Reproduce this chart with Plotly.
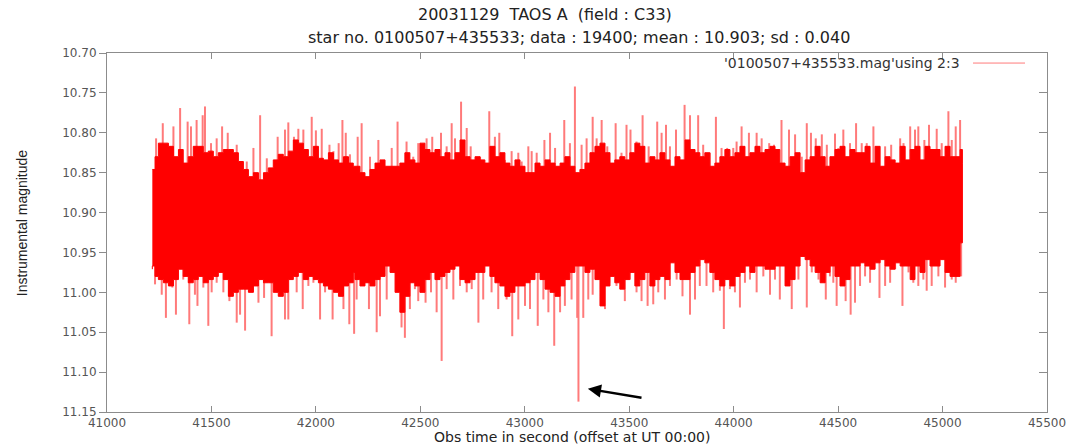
import plotly.graph_objects as go

# ---------------- data ----------------
title_line1 = "20031129\u00a0\u00a0TAOS A\u00a0\u00a0(field : C33)"
title_line2 = "star no. 0100507+435533; data : 19400; mean : 10.903; sd : 0.040"
legend_label = "'0100507+435533.mag'using 2:3"
x_title = "Obs time in second (offset at UT 00:00)"
y_title = "Instrumental magnitude"
mean_mag = 10.903

x_ticks = [41000, 41500, 42000, 42500, 43000, 43500, 44000, 44500, 45000, 45500]
y_ticks = [10.70, 10.75, 10.80, 10.85, 10.90, 10.95, 11.00, 11.05, 11.10, 11.15]

# dense core of the light curve (upper / lower edge of the solid band)
core_time = [
    41217, 41230, 41246, 41270, 41294, 41318, 41342, 41365, 41389, 41413, 41437, 41461, 41485, 41509,
    41533, 41557, 41581, 41605, 41629, 41653, 41677, 41701, 41725, 41749, 41772, 41796, 41820, 41844,
    41868, 41892, 41916, 41940, 41964, 41988, 42012, 42036, 42060, 42084, 42108, 42132, 42156, 42179,
    42187, 42211, 42235, 42259, 42283, 42307, 42331, 42355, 42379, 42402, 42426, 42450, 42474, 42498,
    42522, 42546, 42570, 42594, 42618, 42642, 42666, 42690, 42714, 42738, 42762, 42786, 42809, 42833,
    42857, 42881, 42905, 42929, 42953, 42977, 43001, 43025, 43049, 43073, 43097, 43121, 43145, 43169,
    43192,
    43216, 43240, 43264, 43288, 43312, 43336, 43360, 43384, 43408, 43431, 43455, 43479, 43503, 43527,
    43551, 43575, 43599, 43623, 43647, 43671, 43695, 43719, 43743, 43767, 43791, 43815, 43838, 43862,
    43886, 43910, 43934, 43958, 43982, 44006, 44030, 44054, 44078, 44102, 44126, 44150, 44174, 44198,
    44221,
    44246, 44270, 44294, 44318, 44342, 44366, 44390, 44414, 44438, 44461, 44485, 44509, 44533, 44557,
    44581, 44605, 44629, 44653, 44677, 44701, 44725, 44749, 44773, 44797, 44821, 44845, 44868, 44892,
    44916, 44940, 44964, 44988, 45012, 45036, 45060, 45084, 45095,
]
core_upper = [
    10.846, 10.830, 10.813, 10.813, 10.817, 10.830, 10.821, 10.838, 10.830, 10.817, 10.817, 10.825, 10.823, 10.830,
    10.825, 10.821, 10.821, 10.825, 10.836, 10.846, 10.855, 10.850, 10.859, 10.850, 10.844, 10.834, 10.827, 10.830,
    10.823, 10.809, 10.813, 10.821, 10.830, 10.817, 10.832, 10.834, 10.825, 10.834, 10.838, 10.830, 10.838, 10.842,
    10.842, 10.850, 10.855, 10.846, 10.838, 10.834, 10.842, 10.842, 10.842, 10.838, 10.825, 10.834, 10.838, 10.813,
    10.821, 10.825, 10.821, 10.830, 10.825, 10.834, 10.825, 10.809, 10.830, 10.834, 10.830, 10.834, 10.838, 10.817,
    10.830, 10.825, 10.838, 10.842, 10.834, 10.842, 10.850, 10.850, 10.838, 10.842, 10.834, 10.838, 10.842, 10.838,
    10.830,
    10.842, 10.850, 10.846, 10.838, 10.825, 10.817, 10.813, 10.825, 10.838, 10.834, 10.830, 10.834, 10.825, 10.813,
    10.817, 10.838, 10.830, 10.834, 10.825, 10.834, 10.842, 10.830, 10.834, 10.809, 10.821, 10.825, 10.830, 10.825,
    10.842, 10.838, 10.830, 10.821, 10.830, 10.825, 10.817, 10.830, 10.825, 10.817, 10.825, 10.821, 10.817, 10.821,
    10.838,
    10.842, 10.830, 10.825, 10.850, 10.834, 10.830, 10.817, 10.830, 10.842, 10.830, 10.821, 10.817, 10.830, 10.821,
    10.825, 10.825, 10.817, 10.838, 10.817, 10.842, 10.830, 10.834, 10.838, 10.817, 10.834, 10.821, 10.817, 10.834,
    10.817, 10.821, 10.821, 10.830, 10.817, 10.830, 10.830, 10.821, 10.838,
]
core_lower = [
    10.971, 10.967, 10.980, 10.984, 10.988, 10.992, 10.984, 10.971, 10.980, 10.988, 10.984, 10.980, 10.988, 10.984,
    10.980, 10.975, 10.984, 11.005, 11.000, 10.996, 10.996, 11.000, 10.992, 10.984, 10.988, 10.988, 11.000, 11.005,
    11.000, 10.984, 10.980, 10.975, 10.984, 10.980, 10.984, 10.988, 10.992, 10.996, 11.000, 11.005, 10.992, 10.988,
    10.975, 10.984, 10.992, 10.988, 10.992, 10.984, 10.980, 10.967, 10.975, 11.000, 11.025, 11.005, 10.988, 10.992,
    11.000, 10.984, 10.975, 10.984, 10.980, 10.975, 10.971, 10.967, 10.984, 10.988, 10.984, 10.975, 10.975, 10.967,
    10.980, 10.988, 10.992, 11.005, 11.000, 10.992, 10.992, 10.988, 10.984, 10.975, 10.984, 10.996, 11.000, 11.005,
    10.992,
    10.984, 10.975, 10.967, 10.967, 10.975, 10.971, 10.984, 11.017, 10.992, 10.980, 10.988, 10.996, 10.984, 10.975,
    10.992, 10.984, 10.975, 10.992, 10.984, 10.980, 10.984, 10.963, 10.975, 10.984, 10.984, 10.975, 10.967, 10.959,
    10.963, 10.975, 10.984, 10.992, 10.984, 10.992, 10.980, 10.975, 10.967, 10.975, 10.967, 10.967, 10.971, 10.971,
    10.967,
    10.967, 10.992, 10.984, 10.967, 10.955, 10.959, 10.967, 10.975, 10.988, 10.975, 10.967, 10.980, 10.992, 10.984,
    10.967, 10.967, 10.963, 10.967, 10.971, 10.963, 10.959, 10.967, 10.971, 10.963, 10.967, 10.967, 10.984, 10.967,
    10.975, 10.959, 10.967, 10.967, 10.959, 10.975, 10.980, 10.980, 10.938,
]

# isolated excursions (single exposures) beyond the dense band
spike_up_time = [
    41235, 41267, 41318, 41350, 41386, 41402, 41429, 41458, 41469, 41498, 41525, 41551, 41578, 41621, 41669,
    41701, 41733, 41765, 41817, 41852, 41868, 41895, 41916, 41940, 41980, 42000, 42028, 42065, 42084, 42109,
    42127, 42143, 42163,
    42200, 42219, 42259, 42299, 42323, 42363, 42391, 42434, 42466, 42490, 42530, 42557, 42599, 42626, 42650,
    42666, 42695, 42722, 42741, 42786, 42830, 42857, 42878, 42905, 42937, 42969, 42985, 43017, 43033, 43057,
    43094, 43121, 43145, 43189, 43216,
    43240, 43272, 43296, 43325, 43344, 43368, 43395, 43435, 43463, 43487, 43506, 43535, 43564, 43593, 43634,
    43655, 43676, 43695, 43724, 43765, 43791, 43830, 43854, 43886, 43915, 43942, 43969, 43998, 44014, 44038,
    44073, 44110, 44134, 44170, 44193, 44229,
    44265, 44294, 44326, 44350, 44370, 44393, 44422, 44446, 44485, 44501, 44525, 44557, 44586, 44613, 44637,
    44669, 44693, 44725, 44754, 44797, 44813, 44845, 44868, 44884, 44913, 44935, 44972, 44996, 45028, 45044,
    45063, 45084,
]
spike_up_mag = [
    10.807, 10.788, 10.792, 10.769, 10.786, 10.792, 10.784, 10.778, 10.767, 10.813, 10.807, 10.792, 10.800, 10.815, 10.836,
    10.819, 10.778, 10.832, 10.805, 10.796, 10.787, 10.805, 10.795, 10.796, 10.780, 10.797, 10.795, 10.815, 10.823, 10.813,
    10.784, 10.800, 10.827,
    10.805, 10.788, 10.830, 10.809, 10.834, 10.819, 10.786, 10.811, 10.830, 10.813, 10.807, 10.805, 10.800, 10.817, 10.788,
    10.807, 10.761, 10.794, 10.817, 10.830, 10.773, 10.805, 10.800, 10.834, 10.823, 10.825, 10.836, 10.817, 10.823, 10.825,
    10.809, 10.800, 10.819, 10.784, 10.813,
    10.742, 10.815, 10.807, 10.780, 10.807, 10.784, 10.817, 10.788, 10.825, 10.790, 10.796, 10.811, 10.778, 10.817, 10.786,
    10.800, 10.790, 10.817, 10.796, 10.765, 10.778, 10.778, 10.815, 10.825, 10.780, 10.819, 10.819, 10.819, 10.811, 10.792,
    10.800, 10.800, 10.807, 10.813, 10.815, 10.784,
    10.796, 10.802, 10.830, 10.788, 10.800, 10.807, 10.802, 10.815, 10.801, 10.819, 10.796, 10.813, 10.788, 10.813, 10.813,
    10.792, 10.821, 10.817, 10.815, 10.807, 10.813, 10.792, 10.796, 10.792, 10.809, 10.790, 10.795, 10.813, 10.773, 10.809,
    10.792, 10.784,
]
spike_down_time = [
    41230, 41262, 41282, 41313, 41330, 41365, 41394, 41421, 41433, 41461, 41485, 41501, 41525, 41557, 41586,
    41621, 41637, 41661, 41685, 41725, 41752, 41788, 41812, 41852, 41868, 41908, 41937, 41964, 41988, 42020,
    42044, 42080, 42108, 42132, 42160, 42183,
    42195, 42219, 42254, 42291, 42307, 42339, 42410, 42426, 42450, 42474, 42490, 42525, 42551, 42578, 42602,
    42626, 42658, 42690, 42722, 42746, 42778, 42801, 42841, 42873, 42913, 42940, 42969, 43001, 43025, 43062,
    43089, 43113, 43141, 43169, 43192,
    43224, 43251, 43257, 43280, 43304, 43325, 43384, 43404, 43439, 43479, 43503, 43535, 43559, 43588, 43615,
    43639, 43671, 43695, 43727, 43755, 43791, 43815, 43838, 43870, 43902, 43934, 43953, 43982, 44006, 44030,
    44054, 44078, 44110, 44142, 44174, 44198, 44221, 44253,
    44278, 44310, 44350, 44374, 44406, 44441, 44461, 44477, 44493, 44517, 44536, 44560, 44581, 44605, 44629,
    44653, 44698, 44725, 44749, 44773, 44808, 44837, 44860, 44884, 44908, 44924, 44948, 44980, 45012, 45044,
    45063, 45089,
]
spike_down_mag = [
    10.990, 11.003, 11.032, 10.994, 11.028, 10.984, 11.040, 11.003, 11.017, 10.994, 11.042, 11.000, 10.988, 11.000, 11.011,
    11.038, 11.028, 11.048, 10.998, 11.013, 11.007, 11.055, 11.000, 11.034, 11.034, 11.000, 11.021, 10.992, 10.988, 11.034,
    11.000, 11.034, 11.000, 11.021, 11.040, 11.052,
    11.009, 10.988, 11.021, 11.050, 11.030, 11.009, 11.044, 11.057, 11.021, 10.996, 11.011, 11.013, 11.000, 11.025, 11.086,
    10.996, 11.009, 10.992, 11.000, 10.996, 11.038, 11.009, 11.000, 11.021, 11.009, 11.055, 11.034, 11.017, 11.021, 11.042,
    11.009, 11.025, 11.067, 11.025, 11.017,
    11.009, 11.032, 11.137, 11.032, 11.009, 11.003, 11.021, 10.988, 10.992, 11.011, 10.984, 11.000, 11.011, 11.017, 11.015,
    11.000, 11.009, 10.992, 10.984, 11.005, 11.028, 11.009, 10.992, 10.992, 11.000, 10.998, 11.046, 10.996, 11.000, 11.019,
    10.988, 10.984, 11.000, 10.980, 11.003, 10.984, 11.009, 10.992,
    11.021, 10.984, 11.019, 10.975, 10.984, 11.009, 10.980, 10.988, 11.017, 10.984, 11.011, 11.028, 11.013, 10.992, 10.980,
    10.988, 11.007, 10.992, 10.988, 10.971, 11.017, 10.975, 10.988, 10.992, 10.984, 10.998, 10.992, 10.980, 10.994, 10.984,
    10.988, 10.980,
]

# arrow marking the event (tip and tail, data units)
arrow_tip = (43302, 11.121)
arrow_tail = (43566, 11.1325)

# ---------------- build the figure ----------------
assert len(core_time) == len(core_upper) == len(core_lower)
assert len(spike_up_time) == len(spike_up_mag)
assert len(spike_down_time) == len(spike_down_mag)

spike_x, spike_y = [], []
for t, m in list(zip(spike_up_time, spike_up_mag)) + list(zip(spike_down_time, spike_down_mag)):
    spike_x += [t, t, None]
    spike_y += [mean_mag, m, None]

fig = go.Figure()
fig.add_trace(go.Scatter(
    x=spike_x, y=spike_y, mode="lines",
    line=dict(color="#ff7a7a", width=2),
    hoverinfo="skip", showlegend=False, yaxis="y",
))
fig.add_trace(go.Scatter(
    x=core_time + core_time[::-1],
    y=core_upper + core_lower[::-1],
    mode="lines", fill="toself", fillcolor="#ff0000",
    line=dict(color="#ff0000", width=1, shape="hv"),
    hoverinfo="skip", showlegend=False, yaxis="y2",
))

tick_font = dict(family="DejaVu Sans", size=12, color="#555555")
axis_col = "#8c8c8c"

fig.update_layout(
    width=1088, height=445, autosize=False,
    margin=dict(l=107, r=41, t=53, b=33),
    paper_bgcolor="white", plot_bgcolor="white",
    showlegend=False,
    xaxis=dict(
        range=[x_ticks[0], x_ticks[-1]], tickvals=x_ticks, ticktext=[str(v) for v in x_ticks],
        ticks="inside", ticklen=6, tickcolor=axis_col, tickwidth=1,
        showline=True, linecolor=axis_col, linewidth=1, mirror="ticks",
        showgrid=False, zeroline=False, tickfont=tick_font, ticklabelstandoff=0,
    ),
    yaxis=dict(
        range=[y_ticks[-1], y_ticks[0]], tickvals=y_ticks, ticktext=["%.2f" % v for v in y_ticks],
        ticks="outside", ticklen=7, tickcolor=axis_col, tickwidth=1,
        showline=True, linecolor=axis_col, linewidth=1, mirror=True,
        showgrid=False, zeroline=False, tickfont=tick_font,
    ),
    yaxis2=dict(
        range=[y_ticks[-1], y_ticks[0]], tickvals=y_ticks, overlaying="y", side="right",
        ticks="inside", ticklen=8, tickcolor=axis_col, tickwidth=1,
        showticklabels=False, showline=False, showgrid=False, zeroline=False,
    ),
)

title_font = dict(family="DejaVu Sans", size=16, color="#222222")
fig.add_annotation(text=title_line1, xref="paper", yref="paper", x=0.466, y=1.106,
                   xanchor="center", yanchor="middle", showarrow=False, font=title_font)
fig.add_annotation(text=title_line2, xref="paper", yref="paper", x=0.502, y=1.043,
                   xanchor="center", yanchor="middle", showarrow=False, font=title_font)
fig.add_annotation(text=x_title, xref="paper", yref="paper", x=0.4947, y=-0.0935,
                   xanchor="center", yanchor="bottom", yshift=0, showarrow=False, borderpad=0,
                   font=dict(family="DejaVu Sans", size=14, color="#222222"))
fig.add_annotation(text=y_title, xref="paper", yref="paper", x=-0.0904, y=0.526,
                   xanchor="center", yanchor="middle", showarrow=False, textangle=-90,
                   font=dict(family="Liberation Sans", size=14, color="#222222"))
# gnuplot-style key: label then line sample
fig.add_annotation(text=legend_label, xref="paper", yref="paper", x=0.9096, y=0.972,
                   xanchor="right", yanchor="middle", showarrow=False,
                   font=dict(family="DejaVu Sans", size=14, color="#333333"))
fig.add_shape(type="line", xref="paper", yref="paper", x0=0.9213, x1=0.9766, y0=0.972, y1=0.972,
              line=dict(color="#ff7a7a", width=1))
# arrow
fig.add_annotation(x=arrow_tip[0], y=arrow_tip[1], ax=arrow_tail[0], ay=arrow_tail[1],
                   xref="x", yref="y", axref="x", ayref="y", text="", showarrow=True,
                   arrowhead=2, arrowsize=1.1, arrowwidth=2.4, arrowcolor="#000000")

fig.write_html("out.html")
